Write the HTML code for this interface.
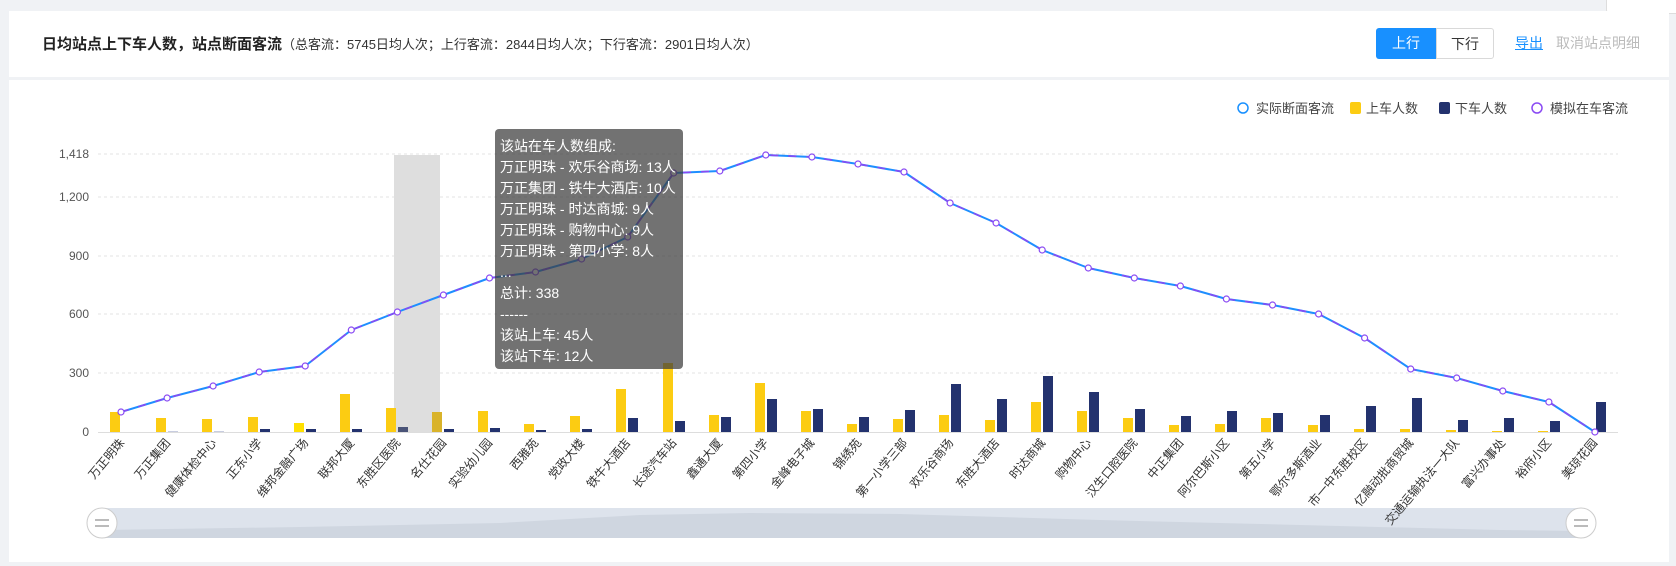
<!DOCTYPE html>
<html><head><meta charset="utf-8"><style>
body{margin:0;width:1676px;height:566px;background:#f0f2f5;position:relative;overflow:hidden;font-family:"Liberation Sans","Noto Sans CJK SC",sans-serif}
.card{position:absolute;left:9px;top:11px;width:1660px;height:551px;background:#fff}
.hd{position:absolute;left:0;top:0;width:1660px;height:66px;border-bottom:3px solid #f0f2f5}
.t{position:absolute;left:33px;top:22px;font-size:15px;font-weight:bold;color:#222;white-space:nowrap}
.t span{font-size:13px;font-weight:normal;color:#333}
.b{position:absolute;top:17px;height:31px;line-height:31px;font-size:14px;text-align:center;box-sizing:border-box}
</style></head><body>
<div style="position:absolute;left:1606px;top:-6px;width:80px;height:18px;background:#fff;border:1px solid #ddd;border-radius:4px"></div>
<div class="card">
<div class="hd">
<div class="t">日均站点上下车人数，站点断面客流<span>（总客流：5745日均人次；上行客流：2844日均人次；下行客流：2901日均人次）</span></div>
<div class="b" style="left:1367px;width:60px;background:#1890ff;color:#fff;border-radius:3px 0 0 3px">上行</div>
<div class="b" style="left:1427px;width:58px;border:1px solid #d9d9d9;color:#333;border-radius:0 3px 3px 0">下行</div>
<div class="b" style="left:1506px;color:#1890ff;text-decoration:underline">导出</div>
<div class="b" style="left:1547px;color:#bbb">取消站点明细</div>
</div>
</div>
<svg width="1676" height="566" style="position:absolute;left:0;top:0" font-family="Liberation Sans, Noto Sans CJK SC, sans-serif">
<g font-size="13" fill="#444">
<circle cx="1243" cy="108" r="5" fill="#fff" stroke="#1890ff" stroke-width="1.5"/><text x="1256" y="113">实际断面客流</text>
<rect x="1350" y="102" width="11" height="12" rx="2" fill="#fccc12"/><text x="1366" y="113">上车人数</text>
<rect x="1439" y="102" width="11" height="12" rx="2" fill="#23326e"/><text x="1455" y="113">下车人数</text>
<circle cx="1537" cy="108" r="5" fill="#fff" stroke="#8a4af3" stroke-width="1.5"/><text x="1550" y="113">模拟在车客流</text>
</g>
<g stroke="#e3e3e3" stroke-dasharray="3 3">
<line x1="98" y1="154" x2="1618" y2="154"/><line x1="98" y1="197" x2="1618" y2="197"/><line x1="98" y1="256" x2="1618" y2="256"/><line x1="98" y1="314" x2="1618" y2="314"/><line x1="98" y1="373" x2="1618" y2="373"/>
</g>
<line x1="98" y1="432.5" x2="1618" y2="432.5" stroke="#ddd"/>
<g font-size="12" fill="#555" text-anchor="end">
<text x="89" y="158">1,418</text><text x="89" y="201">1,200</text><text x="89" y="260">900</text><text x="89" y="318">600</text><text x="89" y="377">300</text><text x="89" y="436">0</text>
</g>
<rect x="394" y="155" width="46" height="277" fill="#dedede"/>
<g fill="#fccc12">
<rect x="110" y="412" width="10" height="20"/><rect x="156" y="418" width="10" height="14"/><rect x="202" y="419" width="10" height="13"/><rect x="248" y="417" width="10" height="15"/><rect x="294" y="423" width="10" height="9" fill="#ffe000"/><rect x="340" y="394" width="10" height="38"/><rect x="386" y="408" width="10" height="24"/><rect x="432" y="412" width="10" height="20" fill="#d9b32a"/><rect x="478" y="411" width="10" height="21"/><rect x="524" y="424" width="10" height="8"/><rect x="570" y="416" width="10" height="16"/><rect x="616" y="389" width="10" height="43"/><rect x="663" y="363" width="10" height="69"/><rect x="709" y="415" width="10" height="17"/><rect x="755" y="383" width="10" height="49"/><rect x="801" y="411" width="10" height="21"/><rect x="847" y="424" width="10" height="8"/><rect x="893" y="419" width="10" height="13"/><rect x="939" y="415" width="10" height="17"/><rect x="985" y="420" width="10" height="12"/><rect x="1031" y="402" width="10" height="30"/><rect x="1077" y="411" width="10" height="21"/><rect x="1123" y="418" width="10" height="14"/><rect x="1169" y="425" width="10" height="7"/><rect x="1215" y="424" width="10" height="8"/><rect x="1261" y="418" width="10" height="14"/><rect x="1308" y="425" width="10" height="7"/><rect x="1354" y="429" width="10" height="3"/><rect x="1400" y="429" width="10" height="3"/><rect x="1446" y="430" width="10" height="2"/><rect x="1492" y="431" width="10" height="1"/><rect x="1538" y="431" width="10" height="1"/>
</g>
<g fill="#23326e">
<rect x="168" y="431" width="10" height="1" fill="#c8cde0"/><rect x="214" y="431" width="10" height="1" fill="#c8cde0"/><rect x="260" y="429" width="10" height="3"/><rect x="306" y="429" width="10" height="3"/><rect x="352" y="429" width="10" height="3"/><rect x="398" y="427" width="10" height="5" fill="#4a5478"/><rect x="444" y="429" width="10" height="3"/><rect x="490" y="428" width="10" height="4"/><rect x="536" y="430" width="10" height="2"/><rect x="582" y="429" width="10" height="3"/><rect x="628" y="418" width="10" height="14"/><rect x="675" y="421" width="10" height="11"/><rect x="721" y="417" width="10" height="15"/><rect x="767" y="399" width="10" height="33"/><rect x="813" y="409" width="10" height="23"/><rect x="859" y="417" width="10" height="15"/><rect x="905" y="410" width="10" height="22"/><rect x="951" y="384" width="10" height="48"/><rect x="997" y="399" width="10" height="33"/><rect x="1043" y="376" width="10" height="56"/><rect x="1089" y="392" width="10" height="40"/><rect x="1135" y="409" width="10" height="23"/><rect x="1181" y="416" width="10" height="16"/><rect x="1227" y="411" width="10" height="21"/><rect x="1273" y="413" width="10" height="19"/><rect x="1320" y="415" width="10" height="17"/><rect x="1366" y="406" width="10" height="26"/><rect x="1412" y="398" width="10" height="34"/><rect x="1458" y="420" width="10" height="12"/><rect x="1504" y="418" width="10" height="14"/><rect x="1550" y="421" width="10" height="11"/><rect x="1596" y="402" width="10" height="30"/>
</g>
<g fill="none" stroke-width="2" stroke-linejoin="round">
<polyline stroke="#1e8fff" points="121,412 167.1,398 213.1,386 259.2,372 305.2,366 351.3,330 397.4,312 443.4,295 489.5,278 535.5,272 581.6,259 627.7,237 673.7,173 719.8,171 765.8,155 811.9,157 858,164 904,172 950.1,203 996.1,223 1042.2,250 1088.3,268 1134.3,278 1180.4,286 1226.4,299 1272.5,305 1318.6,314 1364.6,338 1410.7,369 1456.7,378 1502.8,391 1548.9,402 1594.9,432"/>
<polyline stroke="#8a4af3" stroke-width="1.6" stroke-dasharray="8 10" points="121,412 167.1,398 213.1,386 259.2,372 305.2,366 351.3,330 397.4,312 443.4,295 489.5,278 535.5,272 581.6,259 627.7,237 673.7,173 719.8,171 765.8,155 811.9,157 858,164 904,172 950.1,203 996.1,223 1042.2,250 1088.3,268 1134.3,278 1180.4,286 1226.4,299 1272.5,305 1318.6,314 1364.6,338 1410.7,369 1456.7,378 1502.8,391 1548.9,402 1594.9,432"/>
</g>
<g fill="#fff" stroke="#8a4af3" stroke-width="1.2">
<circle cx="121" cy="412" r="3"/><circle cx="167.1" cy="398" r="3"/><circle cx="213.1" cy="386" r="3"/><circle cx="259.2" cy="372" r="3"/><circle cx="305.2" cy="366" r="3"/><circle cx="351.3" cy="330" r="3"/><circle cx="397.4" cy="312" r="3"/><circle cx="443.4" cy="295" r="3"/><circle cx="489.5" cy="278" r="3"/><circle cx="535.5" cy="272" r="3"/><circle cx="581.6" cy="259" r="3"/><circle cx="627.7" cy="237" r="3"/><circle cx="673.7" cy="173" r="3"/><circle cx="719.8" cy="171" r="3"/><circle cx="765.8" cy="155" r="3"/><circle cx="811.9" cy="157" r="3"/><circle cx="858" cy="164" r="3"/><circle cx="904" cy="172" r="3"/><circle cx="950.1" cy="203" r="3"/><circle cx="996.1" cy="223" r="3"/><circle cx="1042.2" cy="250" r="3"/><circle cx="1088.3" cy="268" r="3"/><circle cx="1134.3" cy="278" r="3"/><circle cx="1180.4" cy="286" r="3"/><circle cx="1226.4" cy="299" r="3"/><circle cx="1272.5" cy="305" r="3"/><circle cx="1318.6" cy="314" r="3"/><circle cx="1364.6" cy="338" r="3"/><circle cx="1410.7" cy="369" r="3"/><circle cx="1456.7" cy="378" r="3"/><circle cx="1502.8" cy="391" r="3"/><circle cx="1548.9" cy="402" r="3"/><circle cx="1594.9" cy="432" r="3"/>
</g>
<rect x="102" y="508" width="1479" height="30" fill="#dde3ec"/>
<path d="M102,530 L300,527 L500,523 L640,515 L750,513 L900,514 L1100,520 L1300,525 L1500,530 L1581,531 L1581,538 L102,538Z" fill="#cfd6e0"/>
<g>
<circle cx="102" cy="523" r="15" fill="#fff" stroke="#ccc"/><rect x="95" y="519" width="14" height="2" fill="#bbb"/><rect x="95" y="525" width="14" height="2" fill="#bbb"/>
<circle cx="1581" cy="523" r="15" fill="#fff" stroke="#ccc"/><rect x="1574" y="519" width="14" height="2" fill="#bbb"/><rect x="1574" y="525" width="14" height="2" fill="#bbb"/>
</g>
<g font-size="12" fill="#333" text-anchor="end">
<text transform="translate(125,443) rotate(-50)">万正明珠</text><text transform="translate(171,443) rotate(-50)">万正集团</text><text transform="translate(217,443) rotate(-50)">健康体检中心</text><text transform="translate(263,443) rotate(-50)">正东小学</text><text transform="translate(309,443) rotate(-50)">维邦金融广场</text><text transform="translate(355,443) rotate(-50)">联邦大厦</text><text transform="translate(401,443) rotate(-50)">东胜区医院</text><text transform="translate(447,443) rotate(-50)">名仕花园</text><text transform="translate(493,443) rotate(-50)">实验幼儿园</text><text transform="translate(539,443) rotate(-50)">西雅苑</text><text transform="translate(585,443) rotate(-50)">党政大楼</text><text transform="translate(631,443) rotate(-50)">铁牛大酒店</text><text transform="translate(677,443) rotate(-50)">长途汽车站</text><text transform="translate(723,443) rotate(-50)">鑫通大厦</text><text transform="translate(769,443) rotate(-50)">第四小学</text><text transform="translate(815,443) rotate(-50)">金峰电子城</text><text transform="translate(862,443) rotate(-50)">锦绣苑</text><text transform="translate(908,443) rotate(-50)">第一小学三部</text><text transform="translate(954,443) rotate(-50)">欢乐谷商场</text><text transform="translate(1000,443) rotate(-50)">东胜大酒店</text><text transform="translate(1046,443) rotate(-50)">时达商城</text><text transform="translate(1092,443) rotate(-50)">购物中心</text><text transform="translate(1138,443) rotate(-50)">汉生口腔医院</text><text transform="translate(1184,443) rotate(-50)">中正集团</text><text transform="translate(1230,443) rotate(-50)">阿尔巴斯小区</text><text transform="translate(1276,443) rotate(-50)">第五小学</text><text transform="translate(1322,443) rotate(-50)">鄂尔多斯酒业</text><text transform="translate(1368,443) rotate(-50)">市一中东胜校区</text><text transform="translate(1414,443) rotate(-50)">亿融动批商贸城</text><text transform="translate(1460,443) rotate(-50)">交通运输执法一大队</text><text transform="translate(1506,443) rotate(-50)">富兴办事处</text><text transform="translate(1552,443) rotate(-50)">裕府小区</text><text transform="translate(1598,443) rotate(-50)">美琼花园</text>
</g>
<rect x="495" y="129" width="188" height="240" rx="4" fill="rgba(60,60,60,0.72)"/>
<g font-size="14" fill="#fff">
<text x="500" y="151">该站在车人数组成:</text><text x="500" y="172">万正明珠 - 欢乐谷商场: 13人</text><text x="500" y="193">万正集团 - 铁牛大酒店: 10人</text><text x="500" y="214">万正明珠 - 时达商城: 9人</text><text x="500" y="235">万正明珠 - 购物中心: 9人</text><text x="500" y="256">万正明珠 - 第四小学: 8人</text><text x="500" y="277">...</text><text x="500" y="298">总计:  338</text><text x="500" y="319">------</text><text x="500" y="340">该站上车: 45人</text><text x="500" y="361">该站下车: 12人</text>
</g>
</svg>
</body></html>
